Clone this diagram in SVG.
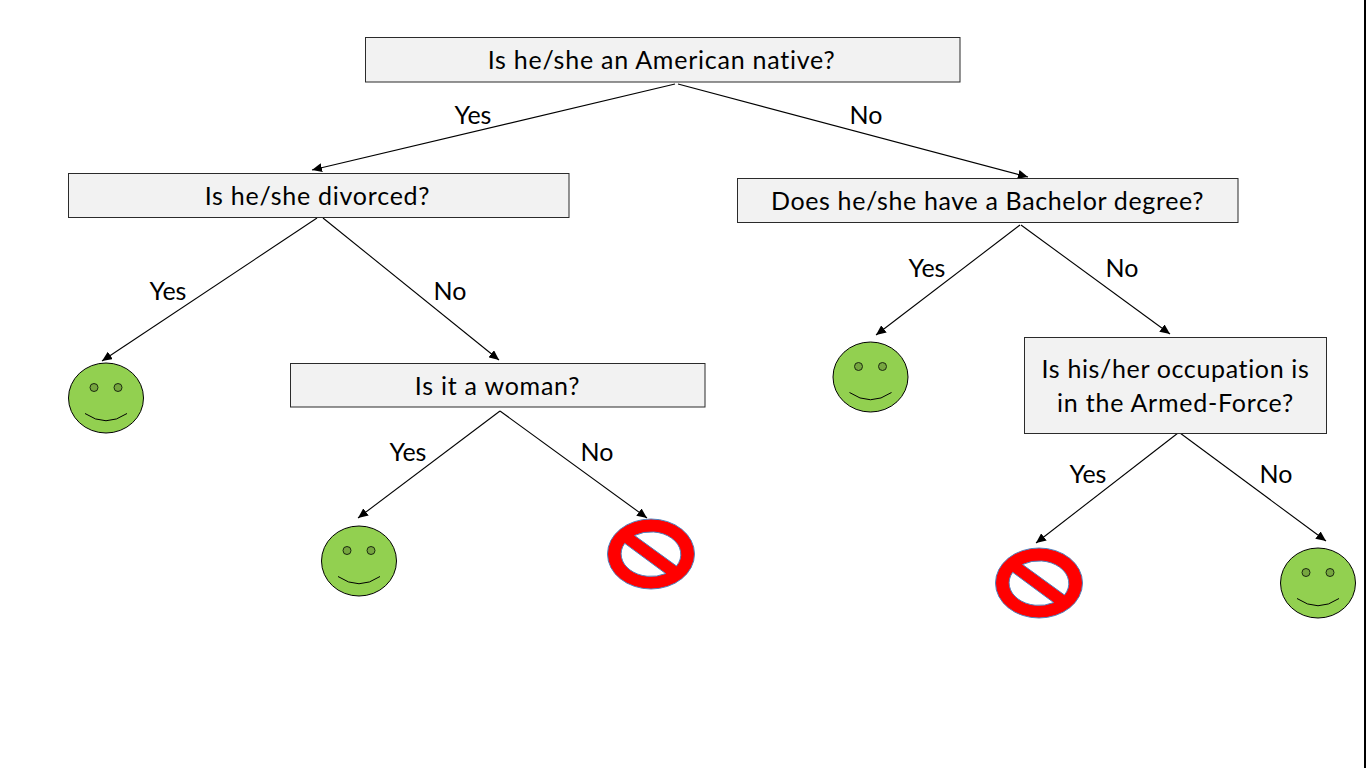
<svg xmlns="http://www.w3.org/2000/svg" xmlns:xlink="http://www.w3.org/1999/xlink" width="1366" height="768" viewBox="0 0 1366 768">
<style>
text{font-family:"Lato","Liberation Sans",sans-serif;font-size:25px;fill:#000;text-anchor:middle}
.q{letter-spacing:0.76px}
.r{letter-spacing:0.64px}
.box{fill:#f2f2f2;stroke:#2b2b2b;stroke-width:1}
.c{stroke:#000;stroke-width:1.1;fill:none;marker-end:url(#a)}
</style>
<defs>
<marker id="a" markerUnits="userSpaceOnUse" markerWidth="11" markerHeight="9" refX="10" refY="4.5" orient="auto"><path d="M0 0L10 4.500L0 9Z" fill="#000"/></marker>
<g id="smile">
<ellipse cx="0" cy="0" rx="37.500" ry="35" fill="#92d050" stroke="#000" stroke-width="1"/>
<circle cx="-12" cy="-10.500" r="4" fill="#76a63f" stroke="#1c2a10" stroke-width="1"/>
<circle cx="12" cy="-10.500" r="4" fill="#76a63f" stroke="#1c2a10" stroke-width="1"/>
<path d="M-21 15.500Q0 30 21 15.500" fill="none" stroke="#000" stroke-width="1"/>
</g>
<path id="no" fill="#ff0000" fill-rule="evenodd" stroke="#4f81bd" stroke-width="1" d="M-43.500 0A43.500 35 0 1 1 43.500 0A43.500 35 0 1 1 -43.500 0ZM-16.500 -18.500A30 22.500 0 0 1 25.500 12ZM-26.300 -10.700A30 22.500 0 0 0 14.700 19.600Z"/>
</defs>
<rect id="edge" x="1364" y="0" width="2" height="768" fill="#000"/>
<g id="connectors">
<path class="c" d="M675 84L312 170"/>
<path class="c" d="M678 84L1028 177"/>
<path class="c" d="M317 218L102 361"/>
<path class="c" d="M323 218L499 360"/>
<path class="c" d="M1020 225L876 335"/>
<path class="c" d="M1021 225L1170 334"/>
<path class="c" d="M500 411L358 518"/>
<path class="c" d="M500 411L647 518"/>
<path class="c" d="M1178 433L1036 543"/>
<path class="c" d="M1180 433L1326 541"/>
</g>
<g id="n1"><rect class="box" x="365.500" y="37.500" width="594.500" height="44.500"/><text class="q" x="661.500" y="69">Is he/she an American native?</text></g>
<g id="n2"><rect class="box" x="68.500" y="173.500" width="500.500" height="44"/><text class="q" x="317.500" y="205">Is he/she divorced?</text></g>
<g id="n3"><rect class="box" x="737.500" y="178.500" width="500.500" height="44"/><text class="r" x="987.500" y="210">Does he/she have a Bachelor degree?</text></g>
<g id="n4"><rect class="box" x="290.500" y="363.500" width="414.500" height="43.500"/><text class="q" x="497.500" y="395">Is it a woman?</text></g>
<g id="n5"><rect class="box" x="1024.500" y="337.500" width="302" height="96"/><text class="r" x="1175.500" y="378">Is his/her occupation is</text><text class="q" x="1175.500" y="412">in the Armed-Force?</text></g>
<g id="s1"><use href="#smile" x="106" y="398"/></g>
<g id="s2"><use href="#smile" x="870.500" y="377"/></g>
<g id="s3"><use href="#smile" x="359" y="561"/></g>
<g id="s4"><use href="#smile" x="1318" y="583"/></g>
<g id="x1"><use href="#no" x="651" y="554"/></g>
<g id="x2"><use href="#no" x="1039" y="583"/></g>
<g id="labels">
<text x="473" y="124">Yes</text><text x="866" y="124">No</text>
<text x="168" y="300">Yes</text><text x="450" y="300">No</text>
<text x="927" y="277">Yes</text><text x="1122" y="277">No</text>
<text x="408" y="461">Yes</text><text x="597" y="461">No</text>
<text x="1088" y="483">Yes</text><text x="1276" y="483">No</text>
</g>
</svg>
